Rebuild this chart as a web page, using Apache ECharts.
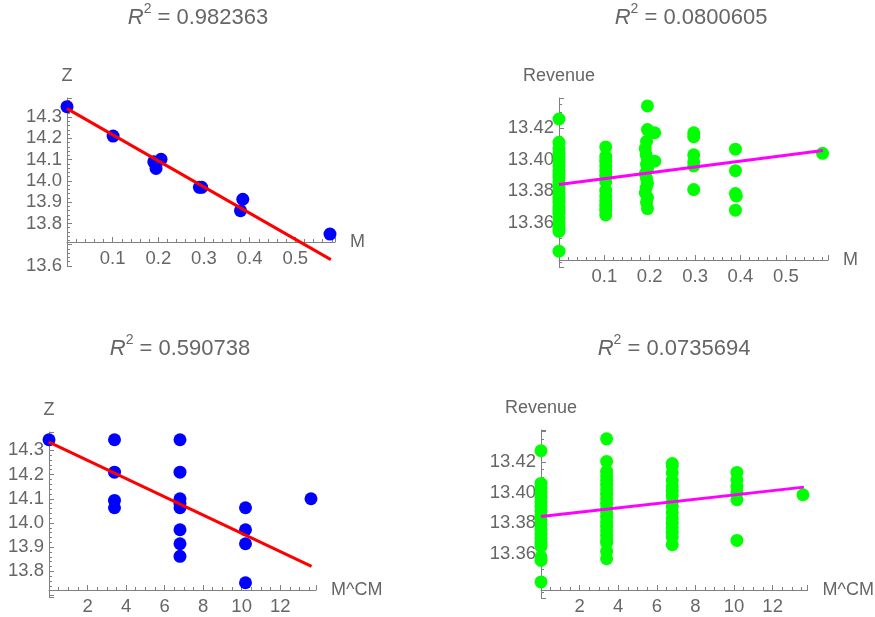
<!DOCTYPE html>
<html>
<head>
<meta charset="utf-8">
<title>regression</title>
<script src="https://cdn.jsdelivr.net/npm/echarts@6/dist/echarts.min.js"></script>
<style>
  html, body { margin: 0; padding: 0; background: #fff; }
  #chart { width: 875px; height: 617px; }
</style>
</head>
<body>
<div id="chart"></div>
<script>
// titles
const r2Values = ["0.982363", "0.0800605", "0.590738", "0.0735694"];

// top left: Z vs M
const mZ = [0, 0.101, 0.19, 0.195, 0.206, 0.29, 0.295, 0.385, 0.38, 0.576];
const zM = [14.349, 14.211, 14.09, 14.059, 14.102, 13.97, 13.97, 13.914, 13.86, 13.75];
const fitMZx = [0, 0.578];
const fitMZy = [14.34, 13.63];

// top right: Revenue vs M
const mRev = [
  0, 0, 0, 0, 0, 0, 0, 0, 0, 0, 0, 0, 0, 0, 0, 0, 0, 0, 0, 0, 0, 0, 0, 0, 0, 0, 0,
  0.103, 0.103, 0.103, 0.103, 0.103, 0.103, 0.103, 0.103, 0.103, 0.103, 0.103, 0.103, 0.103,
  0.195, 0.195, 0.211, 0.193, 0.19, 0.192, 0.195, 0.193, 0.195, 0.19, 0.193, 0.195, 0.192, 0.19, 0.195, 0.193, 0.195, 0.211,
  0.297, 0.297, 0.297, 0.297, 0.297, 0.297,
  0.389, 0.389, 0.389, 0.391, 0.389,
  0.581,
];
const revM = [
  13.4257, 13.411, 13.407, 13.404, 13.402, 13.4, 13.398, 13.396, 13.393, 13.391, 13.389, 13.386, 13.384, 13.382,
  13.379, 13.377, 13.375, 13.373, 13.37, 13.368, 13.366, 13.363, 13.36, 13.358, 13.356, 13.3545, 13.342,
  13.408, 13.402, 13.399, 13.396, 13.393, 13.39, 13.386, 13.3805, 13.377, 13.374, 13.371, 13.368, 13.365,
  13.434, 13.419, 13.417, 13.4115, 13.407, 13.403, 13.4, 13.397, 13.394, 13.391, 13.388, 13.385, 13.382, 13.379, 13.376, 13.373, 13.369, 13.399,
  13.417, 13.4145, 13.403, 13.3985, 13.396, 13.381,
  13.4066, 13.393, 13.3785, 13.377, 13.368,
  13.404,
];
const fitMRevx = [0, 0.582];
const fitMRevy = [13.3843, 13.4057];

// bottom left: Z vs M^CM
const cmZ = [0, 3.4, 3.4, 3.4, 3.4, 6.8, 6.8, 6.8, 6.8, 6.8, 6.8, 6.8, 6.8, 10.2, 10.2, 10.2, 10.2, 13.6];
const zCm = [14.344, 14.344, 14.21, 14.093, 14.063, 14.344, 14.21, 14.1, 14.08, 14.063, 13.972, 13.914, 13.862, 14.063, 13.972, 13.914, 13.753, 14.1];
const fitCmZx = [0, 13.63];
const fitCmZy = [14.334, 13.821];

// bottom right: Revenue vs M^CM
const cmRev = [
  0, 0, 0, 0, 0, 0, 0, 0, 0, 0, 0, 0, 0, 0, 0, 0, 0, 0, 0,
  3.4, 3.4, 3.4, 3.4, 3.4, 3.4, 3.4, 3.4, 3.4, 3.4, 3.4, 3.4, 3.4, 3.4, 3.4, 3.4, 3.4, 3.4, 3.4, 3.4, 3.4,
  6.8, 6.8, 6.8, 6.8, 6.8, 6.8, 6.8, 6.8, 6.8, 6.8, 6.8, 6.8, 6.8, 6.8, 6.8, 6.8,
  10.15, 10.15, 10.15, 10.15, 10.15, 10.15,
  13.57,
];
const revCm = [
  13.4274, 13.406, 13.403, 13.4, 13.397, 13.394, 13.391, 13.388, 13.385, 13.382, 13.379, 13.376, 13.373, 13.37, 13.367, 13.3648, 13.358, 13.3556, 13.3415,
  13.4352, 13.4204, 13.414, 13.411, 13.408, 13.405, 13.402, 13.399, 13.396, 13.393, 13.39, 13.387, 13.384, 13.381, 13.378, 13.375, 13.372, 13.369, 13.367, 13.3615, 13.3567,
  13.419, 13.4175, 13.413, 13.408, 13.404, 13.401, 13.398, 13.394, 13.391, 13.387, 13.383, 13.38, 13.377, 13.374, 13.371, 13.3659,
  13.4132, 13.4084, 13.404, 13.4, 13.3954, 13.3687,
  13.3986,
];
const fitCmRevx = [0, 13.62];
const fitCmRevy = [13.3844, 13.4036];

// tick labels
const mTicks = ["0.1", "0.2", "0.3", "0.4", "0.5"];
const cmTicks = ["2", "4", "6", "8", "10", "12"];
const zTicksTop = ["13.6", "13.8", "13.9", "14.0", "14.1", "14.2", "14.3"];
const zTicksBottom = ["13.8", "13.9", "14.0", "14.1", "14.2", "14.3"];
const revTicks = ["13.36", "13.38", "13.40", "13.42"];

const FONT = "'Liberation Sans', Arial, sans-serif";
const GREY = "#666";
const AXIS = "#808080";
const LABEL_SIZE = 18.5;

function pairs(xs, ys) {
  return xs.map((x, i) => [x, ys[i]]);
}

function only(labels, digits) {
  return (v) => {
    const s = v.toFixed(digits);
    return labels.indexOf(s) > -1 ? s : "";
  };
}

function xAxisOf(idx, max, interval, minor, labels, digits, name, offset) {
  return {
    type: "value",
    gridIndex: idx,
    min: 0,
    max: max,
    interval: interval,
    offset: offset,
    name: name,
    nameLocation: "end",
    nameGap: 15,
    nameTextStyle: { color: GREY, fontSize: 18, fontFamily: FONT },
    axisLine: { onZero: false, lineStyle: { color: AXIS, width: 1 } },
    axisTick: { inside: true, length: 5, lineStyle: { color: AXIS } },
    minorTick: { show: true, splitNumber: minor, length: 3, lineStyle: { color: AXIS } },
    axisLabel: { color: GREY, fontSize: LABEL_SIZE, fontFamily: FONT, margin: 7, formatter: only(labels, digits) },
    splitLine: { show: false },
  };
}

function yAxisOf(idx, min, max, interval, minor, labels, digits, name) {
  return {
    type: "value",
    gridIndex: idx,
    min: min,
    max: max,
    minInterval: interval,
    maxInterval: interval,
    name: name,
    nameLocation: "end",
    nameGap: 13,
    nameTextStyle: { color: GREY, fontSize: 18, fontFamily: FONT },
    axisLine: { show: true, onZero: false, lineStyle: { color: AXIS, width: 1 } },
    axisTick: { show: true, inside: true, length: 5, lineStyle: { color: AXIS } },
    minorTick: { show: true, splitNumber: minor, length: 3, lineStyle: { color: AXIS } },
    axisLabel: { color: GREY, fontSize: LABEL_SIZE, fontFamily: FONT, margin: 5, formatter: only(labels, digits) },
    splitLine: { show: false },
  };
}

function dots(idx, xs, ys, color) {
  return {
    type: "scatter",
    xAxisIndex: idx,
    yAxisIndex: idx,
    data: pairs(xs, ys),
    symbol: "circle",
    symbolSize: 13,
    clip: false,
    itemStyle: { color: color, opacity: 1 },
    z: 2,
  };
}

function fit(idx, xs, ys, color) {
  return {
    type: "line",
    xAxisIndex: idx,
    yAxisIndex: idx,
    data: pairs(xs, ys),
    symbol: "none",
    clip: false,
    lineStyle: { color: color, width: 3 },
    z: 3,
  };
}

function title(x, y, value) {
  return {
    type: "text",
    x: x,
    y: y,
    style: {
      text: "{r|R}{s|2}{n| = " + value + "}",
      align: "center",
      verticalAlign: "middle",
      rich: {
        r: { fontSize: 22, lineHeight: 32, fontStyle: "italic", fontFamily: FONT, fill: GREY },
        s: { fontSize: 14, fontFamily: FONT, fill: GREY, verticalAlign: "top" },
        n: { fontSize: 22, lineHeight: 32, fontFamily: FONT, fill: GREY },
      },
    },
  };
}

const chart = echarts.init(document.getElementById("chart"), null, { renderer: "canvas" });

chart.setOption({
  animation: false,
  backgroundColor: "#fff",
  textStyle: { fontFamily: FONT },
  grid: [
    { left: 67, top: 98, width: 268, height: 168 },
    { left: 559, top: 98, width: 269, height: 169 },
    { left: 49, top: 432, width: 267, height: 165 },
    { left: 541, top: 430, width: 267, height: 168 },
  ],
  xAxis: [
    xAxisOf(0, 0.587, 0.1, 5, mTicks, 1, "M", -24),
    xAxisOf(1, 0.593, 0.1, 5, mTicks, 1, "M", -7),
    xAxisOf(2, 13.86, 2, 4, cmTicks, 0, "M^CM", -7),
    xAxisOf(3, 13.81, 2, 4, cmTicks, 0, "M^CM", -8),
  ],
  yAxis: [
    yAxisOf(0, 13.6, 14.39, 0.1, 5, zTicksTop, 1, "Z"),
    yAxisOf(1, 13.332, 13.439, 0.02, 4, revTicks, 2, "Revenue"),
    yAxisOf(2, 13.694, 14.376, 0.1, 5, zTicksBottom, 1, "Z"),
    yAxisOf(3, 13.331, 13.441, 0.02, 4, revTicks, 2, "Revenue"),
  ],
  graphic: [
    title(198, 18, r2Values[0]),
    title(691, 18, r2Values[1]),
    title(180, 349, r2Values[2]),
    title(674, 349, r2Values[3]),
  ],
  series: [
    dots(0, mZ, zM, "#0000ff"),
    fit(0, fitMZx, fitMZy, "#ff0000"),
    dots(1, mRev, revM, "#00ff00"),
    fit(1, fitMRevx, fitMRevy, "#ff00ff"),
    dots(2, cmZ, zCm, "#0000ff"),
    fit(2, fitCmZx, fitCmZy, "#ff0000"),
    dots(3, cmRev, revCm, "#00ff00"),
    fit(3, fitCmRevx, fitCmRevy, "#ff00ff"),
  ],
});
</script>
</body>
</html>
